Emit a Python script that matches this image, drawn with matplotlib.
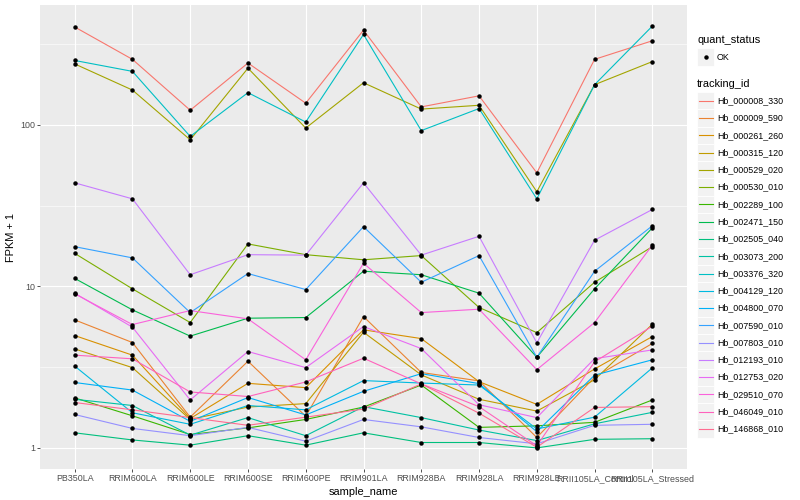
import matplotlib
matplotlib.use("Agg")
import matplotlib.pyplot as plt
from matplotlib.ticker import FixedLocator, NullFormatter
from matplotlib.patches import Rectangle
from matplotlib.lines import Line2D
import numpy as np

plt.rcParams['font.family'] = ['Liberation Sans', 'DejaVu Sans']

samples = ["PB350LA", "RRIM600LA", "RRIM600LE", "RRIM600SE", "RRIM600PE",
           "RRIM901LA", "RRIM928BA", "RRIM928LA", "RRIM928LE",
           "RRII105LA_Control", "RRII105LA_Stressed"]

tracking_ids = ["Hb_000008_330", "Hb_000009_590", "Hb_000261_260", "Hb_000315_120",
                "Hb_000529_020", "Hb_000530_010", "Hb_002289_100", "Hb_002471_150",
                "Hb_002505_040", "Hb_003073_200", "Hb_003376_320", "Hb_004129_120",
                "Hb_004800_070", "Hb_007590_010", "Hb_007803_010", "Hb_012193_010",
                "Hb_012753_020", "Hb_029510_070", "Hb_046049_010", "Hb_146868_010"]

hb_000008_330 = [403, 254, 123, 241, 136, 385, 129, 151, 50.4, 254, 331]
hb_000009_590 = [6.2, 4.49, 1.55, 3.44, 1.57, 6.5, 2.93, 2.60, 1.16, 2.74, 4.43]
hb_000261_260 = [4.96, 3.75, 1.52, 2.51, 2.36, 5.38, 4.75, 2.57, 1.86, 3.08, 4.89]
hb_000315_120 = [4.10, 3.14, 1.50, 1.79, 1.88, 5.20, 2.83, 2.00, 1.69, 2.64, 5.83]
hb_000529_020 = [238, 164, 80.7, 224, 95.4, 182, 125, 132, 38.5, 177, 246]
hb_000530_010 = [16.0, 9.65, 5.97, 18.3, 15.7, 14.6, 15.5, 7.4, 5.17, 10.6, 17.6]
hb_002289_100 = [2.04, 1.58, 1.21, 1.33, 1.50, 1.79, 2.45, 1.34, 1.37, 1.44, 1.98]
hb_002471_150 = [11.2, 7.15, 4.92, 6.35, 6.41, 12.4, 11.8, 9.07, 3.64, 9.65, 23.0]
hb_002505_040 = [1.24, 1.12, 1.04, 1.19, 1.04, 1.24, 1.08, 1.08, 1.0, 1.13, 1.14]
hb_003073_200 = [2.0, 1.83, 1.20, 1.54, 1.19, 1.80, 1.54, 1.29, 1.11, 1.41, 1.66]
hb_003376_320 = [250, 214, 84.7, 158, 104, 362, 92, 126, 34.8, 177, 408]
hb_004129_120 = [3.21, 1.65, 1.40, 1.83, 1.72, 2.61, 2.52, 2.45, 1.31, 1.55, 3.13]
hb_004800_070 = [2.54, 2.28, 1.46, 2.05, 1.60, 2.24, 2.88, 2.50, 1.26, 2.82, 3.51]
hb_007590_010 = [17.6, 15.0, 6.88, 12.0, 9.55, 23.4, 10.6, 15.5, 3.64, 12.4, 23.7]
hb_007803_010 = [1.61, 1.32, 1.19, 1.34, 1.10, 1.50, 1.35, 1.16, 1.06, 1.38, 1.40]
hb_012193_010 = [43.7, 34.8, 11.8, 15.7, 15.6, 43.7, 15.6, 20.4, 4.47, 19.3, 29.9]
hb_012753_020 = [9.07, 5.59, 1.98, 3.95, 3.14, 5.64, 4.12, 1.85, 1.54, 3.57, 4.04]
hb_029510_070 = [9.0, 5.80, 7.08, 6.29, 3.51, 13.9, 6.88, 7.22, 3.05, 5.97, 18.0]
hb_046049_010 = [3.75, 3.56, 2.22, 2.08, 2.56, 3.59, 2.49, 1.80, 1.03, 3.41, 5.67]
hb_146868_010 = [1.91, 1.72, 1.54, 1.38, 1.55, 1.74, 2.49, 1.64, 1.01, 1.78, 1.80]

series = [hb_000008_330, hb_000009_590, hb_000261_260, hb_000315_120, hb_000529_020,
          hb_000530_010, hb_002289_100, hb_002471_150, hb_002505_040, hb_003073_200,
          hb_003376_320, hb_004129_120, hb_004800_070, hb_007590_010, hb_007803_010,
          hb_012193_010, hb_012753_020, hb_029510_070, hb_046049_010, hb_146868_010]

colors = ["#F8766D", "#EA8331", "#D89000", "#C09B00", "#A3A500", "#7CAE00", "#39B600",
          "#00BB4E", "#00BF7D", "#00C1A3", "#00BFC4", "#00BAE0", "#00B0F6", "#35A2FF",
          "#9590FF", "#C77CFF", "#E76BF3", "#FA62DB", "#FF62BC", "#FF6C91"]

W, H = 800, 500
fig = plt.figure(figsize=(W / 100, H / 100), dpi=100)
L, R, T, B = 40, 687, 5, 469
ax = fig.add_axes([L / W, 1 - B / H, (R - L) / W, (B - T) / H])

x = np.arange(len(samples))
for vals, col in zip(series, colors):
    ax.plot(x, vals, color=col, lw=0.8, zorder=2, solid_capstyle='butt')
for vals in series:
    ax.plot(x, vals, linestyle='none', marker='o', ms=2.2, color='black', zorder=3)

allv = np.concatenate([np.array(s, float) for s in series])
lo, hi = np.log10(allv.min()), np.log10(allv.max())
pad = 0.05 * (hi - lo)
ax.set_yscale('log')
ax.set_ylim(10 ** (lo - pad), 10 ** (hi + pad))
ax.set_xlim(-0.6, len(samples) - 1 + 0.6)

ax.set_yticks([1, 10, 100])
ax.set_yticklabels(['1', '10', '100'])
ax.yaxis.set_minor_locator(FixedLocator([10 ** 0.5, 10 ** 1.5, 10 ** 2.5]))
ax.yaxis.set_minor_formatter(NullFormatter())
ax.set_xticks(x)
ax.set_xticklabels(samples)

ax.set_facecolor('#EBEBEB')
for s in ax.spines.values():
    s.set_visible(False)
ax.grid(which='major', color='white', lw=0.8, zorder=0)
ax.grid(which='minor', axis='y', color='white', lw=0.4, zorder=0)
ax.set_axisbelow(True)
ax.tick_params(which='major', length=2, width=0.6, color='#333333',
               labelcolor='#4D4D4D', labelsize=6.4, pad=1.5)
ax.tick_params(which='minor', length=0)
ax.set_xlabel('sample_name', fontsize=7.9, labelpad=3)
ax.set_ylabel('FPKM + 1', fontsize=7.9, labelpad=3)

# legend (ggplot style), positions in pixels
def fx(px):
    return px / W

def fy(py):
    return 1 - py / H

key = 17.28
kx = 697
fig.text(fx(kx), fy(40), 'quant_status', fontsize=7.9, va='center', ha='left')
cy = 57
fig.add_artist(Rectangle((fx(kx), fy(cy + key / 2)), key / W, key / H,
                         transform=fig.transFigure, facecolor='#F2F2F2',
                         edgecolor='white', lw=0.6))
fig.add_artist(Line2D([fx(kx + key / 2)], [fy(cy)], marker='o', ms=2.2,
                      color='black', transform=fig.transFigure))
fig.text(fx(717), fy(cy), 'OK', fontsize=6.4, va='center', ha='left')

fig.text(fx(kx), fy(84), 'tracking_id', fontsize=7.9, va='center', ha='left')
for i, (tid, col) in enumerate(zip(tracking_ids, colors)):
    cy = 100.7 + i * key
    fig.add_artist(Rectangle((fx(kx), fy(cy + key / 2)), key / W, key / H,
                             transform=fig.transFigure, facecolor='#F2F2F2',
                             edgecolor='white', lw=0.6))
    fig.add_artist(Line2D([fx(kx + 1.7), fx(kx + key - 1.7)], [fy(cy), fy(cy)],
                          color=col, lw=0.8, transform=fig.transFigure))
    fig.text(fx(717), fy(cy), tid, fontsize=6.4, va='center', ha='left')

fig.savefig('out.png', dpi=100)
